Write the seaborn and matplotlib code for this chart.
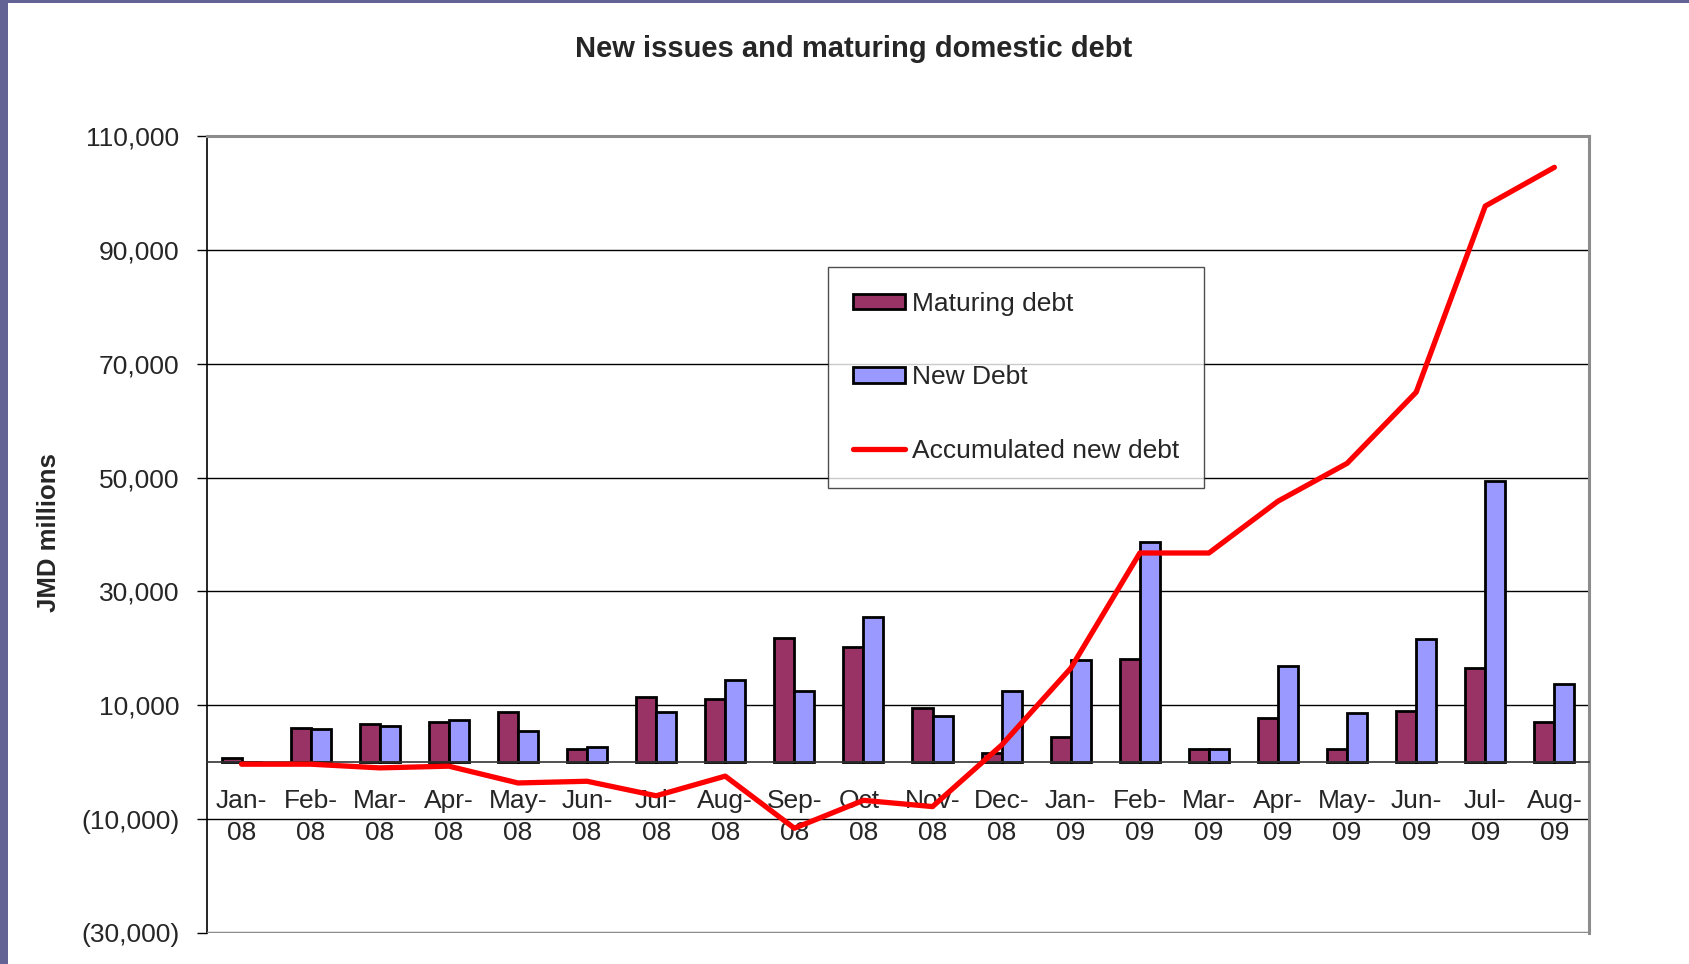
import pandas as pd
import numpy as np
import matplotlib
matplotlib.use("Agg")
import matplotlib.pyplot as plt
import seaborn as sns
from matplotlib.patches import Rectangle
from matplotlib.ticker import FuncFormatter

sns.set_style("white")
plt.rcParams["font.family"] = ["Liberation Sans", "DejaVu Sans"]

months = ["Jan-08", "Feb-08", "Mar-08", "Apr-08", "May-08", "Jun-08", "Jul-08",
          "Aug-08", "Sep-08", "Oct-08", "Nov-08", "Dec-08", "Jan-09", "Feb-09",
          "Mar-09", "Apr-09", "May-09", "Jun-09", "Jul-09", "Aug-09"]
maturing = [760, 6060, 6700, 7060, 8820, 2350, 11400, 11060, 21750, 20240,
            9470, 1700, 4350, 18180, 2350, 7750, 2270, 9010, 16630, 7030]
new_debt = [0, 5760, 6400, 7470, 5410, 2700, 8820, 14470, 12470, 25500,
            8120, 12470, 17880, 38600, 2350, 16820, 8660, 21690, 49400, 13660]
accumulated = [-350, -350, -1000, -700, -3650, -3350, -5900, -2450, -11600, -6700,
               -7800, 3000, 16500, 36750, 36750, 45850, 52500, 65000, 97700, 104500]
yticks = [-30000, -10000, 10000, 30000, 50000, 70000, 90000, 110000]

color = ["#993366", "#9999FF"]

df = pd.concat([
    pd.DataFrame({"month": months, "value": maturing, "series": "Maturing debt"}),
    pd.DataFrame({"month": months, "value": new_debt, "series": "New Debt"}),
], ignore_index=True)

fig = plt.figure(figsize=(16.9, 9.64), dpi=100)
ax = fig.add_axes([0.1225, 0.0322, 0.8177, 0.8267])

sns.barplot(data=df, x="month", y="value", hue="series", palette=color,
            width=0.58, edgecolor="black", linewidth=2, saturation=1,
            ax=ax, zorder=2)
n = len(months)
sns.lineplot(x=np.arange(n), y=accumulated, color="#FF0000", linewidth=3.8,
             ax=ax, label="Accumulated new debt", zorder=4)

ax.set_ylim(-30000, 110000)
ax.set_xlim(-0.5, n - 0.5)
ax.set_yticks(yticks)
ax.yaxis.set_major_formatter(FuncFormatter(
    lambda v, p: f"({abs(v):,.0f})" if v < 0 else f"{v:,.0f}"))

# gridlines (inner ones black), frame edges gray
for v in yticks[1:-1]:
    ax.axhline(v, color="black", linewidth=1, zorder=0.5)
ax.axhline(-30000, color="#8c8c8c", linewidth=2.5, zorder=5)

for s in ["top", "right"]:
    ax.spines[s].set_color("#8c8c8c")
    ax.spines[s].set_linewidth(2.2)
ax.spines["left"].set_color("black")
ax.spines["left"].set_linewidth(1.2)
ax.spines["bottom"].set_position(("data", 0))
ax.spines["bottom"].set_color("#333333")
ax.spines["bottom"].set_linewidth(1.2)
ax.spines["bottom"].set_zorder(3)

ax.set_xticks(np.arange(n))
ax.set_xticklabels([m.replace("-", "-\n") for m in months], linespacing=1.45)
ax.set_xticks(np.arange(-0.5, n), minor=True)
ax.tick_params(axis="x", which="major", length=0, pad=19, labelsize=19)
ax.tick_params(axis="x", which="minor", length=7, width=1, color="#333333",
               direction="out")
ax.tick_params(axis="y", length=7, width=1, color="black", direction="out",
               left=True, labelsize=19, pad=13)

ax.set_xlabel("")
ax.set_ylabel("JMD millions", fontsize=18.5, fontweight="bold")
ax.yaxis.set_label_coords(-0.106, 0.502)

h, l = ax.get_legend_handles_labels()
leg = ax.legend(h, l, loc="upper left", bbox_to_anchor=(0.449, 0.836),
                fontsize=19, frameon=True, fancybox=False, shadow=False,
                borderpad=0.95, labelspacing=1.88, handlelength=2.0,
                handleheight=0.55, handletextpad=0.25, borderaxespad=0)
leg.get_frame().set_edgecolor("#222222")
leg.get_frame().set_linewidth(1.0)
leg.set_zorder(6)

fig.text(0.5053, 0.949, "New issues and maturing domestic debt",
         ha="center", va="center", fontsize=21, fontweight="bold")

# outer border of the picture
fig.patches.append(Rectangle((0, 0), 8 / 1690, 1, transform=fig.transFigure,
                             facecolor="#636396", edgecolor="none"))
fig.patches.append(Rectangle((0, 1 - 3 / 964), 1, 3 / 964, transform=fig.transFigure,
                             facecolor="#636396", edgecolor="none"))

fig.savefig("out.png", dpi=100)
